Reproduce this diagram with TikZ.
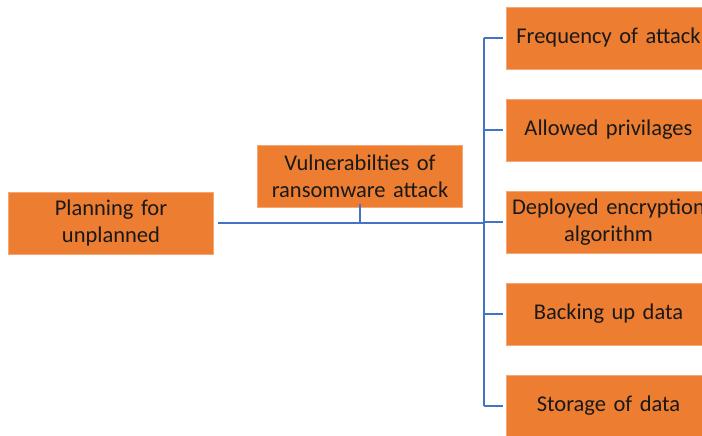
\documentclass[tikz,border=0pt]{standalone}
\usepackage{fontspec}
\setmainfont{Carlito}
\definecolor{boxorange}{HTML}{ED7D31}
\definecolor{boxedge}{HTML}{F4A774}
\definecolor{lineblue}{HTML}{4472C4}
\begin{document}
\begin{tikzpicture}[x=1pt,y=-1pt,
  box/.style={fill=boxorange,draw=boxedge,line width=0.8pt,minimum width=205pt,minimum height=62pt,
    text width=204pt,align=center,font=\fontsize{22.5}{27}\selectfont,text=black!90,inner sep=0pt},
  conn/.style={draw=lineblue,line width=2.8pt}]
\useasboundingbox (0,0) rectangle (702,436);
\clip (0,0) rectangle (702,436);
\fill[white] (0,0) rectangle (702,436);
\node[box] (plan) at (111,223) {Planning for\\unplanned};
\node[box] (vul) at (360,176) {Vulnerabilties of\\ransomware attack};
\node[box] (f1) at (608.5,38) {Frequency of attack};
\node[box] (f2) at (608.5,130) {Allowed privilages};
\node[box] (f3) at (608.5,222) {Deployed encryption\\algorithm};
\node[box] (f4) at (608.5,314) {Backing up data};
\node[box] (f5) at (608.5,406) {Storage of data};
\coordinate (hub) at (484,223);
\coordinate (tick) at (360,223);
\draw[conn] ([xshift=4pt]plan.east) -- (hub);
\draw[conn] ([yshift=3pt]vul.south) -- (tick);
\draw[conn] (hub |- f1.west) -- (hub |- f5.west);
\foreach \n in {f1,f2,f3,f4,f5}{
  \draw[conn] (hub |- \n.west) -- ([xshift=-3pt]\n.west);
}
\end{tikzpicture}
\end{document}
